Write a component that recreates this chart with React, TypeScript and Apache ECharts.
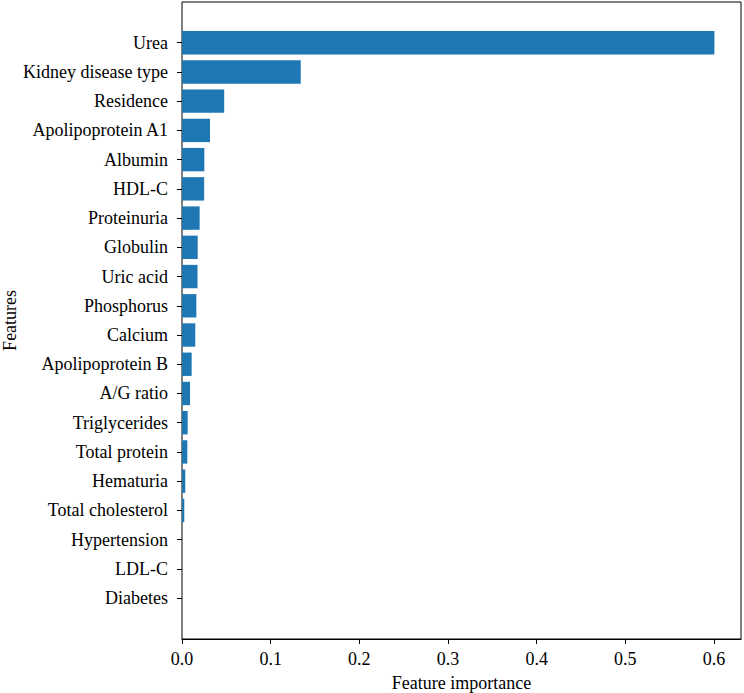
import React, { useEffect, useRef } from "react";
import * as echarts from "echarts";

// Features, ordered from most to least important (top to bottom)
const features: string[] = [
  "Urea",
  "Kidney disease type",
  "Residence",
  "Apolipoprotein A1",
  "Albumin",
  "HDL-C",
  "Proteinuria",
  "Globulin",
  "Uric acid",
  "Phosphorus",
  "Calcium",
  "Apolipoprotein B",
  "A/G ratio",
  "Triglycerides",
  "Total protein",
  "Hematuria",
  "Total cholesterol",
  "Hypertension",
  "LDL-C",
  "Diabetes",
];

const importance: number[] = [
  0.6004, 0.1339, 0.0476, 0.0316, 0.0252, 0.025, 0.0199, 0.0177, 0.0175,
  0.0162, 0.015, 0.0109, 0.009, 0.0064, 0.006, 0.0037, 0.0026, 0, 0, 0,
];

const xTicks: number[] = [0, 0.1, 0.2, 0.3, 0.4, 0.5, 0.6];

const FONT = "'Liberation Serif', 'Times New Roman', serif";
const FONT_SIZE = 18;
const X_MAX = 0.6304;

export default function App() {
  const ref = useRef<HTMLDivElement>(null);

  useEffect(() => {
    if (!ref.current) return;
    const chart = echarts.init(ref.current, null, { renderer: "svg" });

    const plotLeft = 182;
    const plotTop = 2;
    const plotWidth = 559;
    const plotHeight = 637;
    // bands occupy the inner part of the frame (padding on top/bottom)
    const bandTop = 28.1;
    const bandHeight = 584.6;

    chart.setOption({
      animation: false,
      backgroundColor: "#ffffff",
      grid: [
        {
          left: plotLeft,
          top: plotTop,
          width: plotWidth,
          height: plotHeight,
          show: true,
          borderColor: "#000000",
          borderWidth: 1,
          backgroundColor: "transparent",
          containLabel: false,
          outerBoundsMode: "none",
        },
        {
          left: plotLeft,
          top: bandTop,
          width: plotWidth,
          height: bandHeight,
          containLabel: false,
          outerBoundsMode: "none",
        },
      ],
      xAxis: [
        {
          type: "value",
          gridIndex: 0,
          min: 0,
          max: X_MAX,
          interval: 0.1,
          name: "Feature importance",
          nameLocation: "middle",
          nameGap: 35,
          nameMoveOverlap: false,
          nameTextStyle: { fontFamily: FONT, fontSize: FONT_SIZE, color: "#000" },
          axisLine: { show: true, lineStyle: { color: "#000", width: 1 } },
          axisTick: {
            show: true,
            length: 5,
            customValues: xTicks,
            lineStyle: { color: "#000", width: 1 },
          },
          axisLabel: {
            customValues: xTicks,
            formatter: (v: number) => v.toFixed(1),
            fontFamily: FONT,
            fontSize: FONT_SIZE,
            color: "#000",
            margin: 11,
          },
          splitLine: { show: false },
        },
        {
          type: "value",
          gridIndex: 1,
          min: 0,
          max: X_MAX,
          show: false,
        },
      ],
      yAxis: [
        {
          type: "value",
          gridIndex: 0,
          show: false,
        },
        {
          type: "category",
          gridIndex: 1,
          data: features,
          inverse: true,
          name: "Features",
          nameLocation: "middle",
          nameGap: 163,
          nameMoveOverlap: false,
          nameTextStyle: { fontFamily: FONT, fontSize: FONT_SIZE, color: "#000" },
          axisLine: { show: false },
          axisTick: {
            show: true,
            alignWithLabel: true,
            length: 5,
            lineStyle: { color: "#000", width: 1 },
          },
          axisLabel: {
            fontFamily: FONT,
            fontSize: FONT_SIZE,
            color: "#000",
            margin: 14,
          },
          splitLine: { show: false },
        },
      ],
      series: [
        {
          type: "bar",
          xAxisIndex: 1,
          yAxisIndex: 1,
          data: importance,
          barWidth: "80%",
          itemStyle: { color: "#1f77b4" },
        },
      ],
    });

    return () => chart.dispose();
  }, []);

  return (
    <div
      ref={ref}
      style={{ position: "fixed", left: 0, top: 0, width: 744, height: 693 }}
    />
  );
}
